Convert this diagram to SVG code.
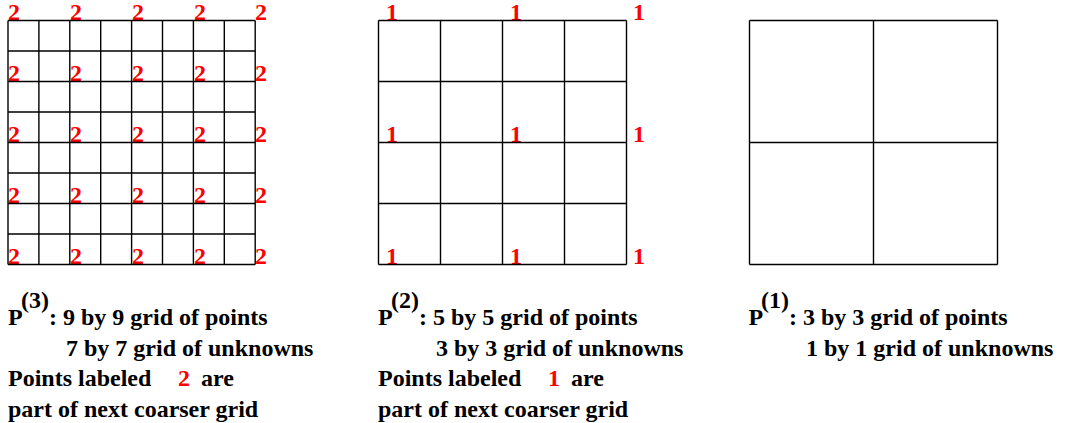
<svg xmlns="http://www.w3.org/2000/svg" width="1068" height="423" viewBox="0 0 1068 423">
<g id="grid3">
<text x="8" y="20" font-family="'Liberation Serif', serif" font-weight="700" font-size="24" fill="#ff0000">2</text>
<text x="70" y="20" font-family="'Liberation Serif', serif" font-weight="700" font-size="24" fill="#ff0000">2</text>
<text x="132" y="20" font-family="'Liberation Serif', serif" font-weight="700" font-size="24" fill="#ff0000">2</text>
<text x="194" y="20" font-family="'Liberation Serif', serif" font-weight="700" font-size="24" fill="#ff0000">2</text>
<text x="255" y="20" font-family="'Liberation Serif', serif" font-weight="700" font-size="24" fill="#ff0000">2</text>
<text x="8" y="81" font-family="'Liberation Serif', serif" font-weight="700" font-size="24" fill="#ff0000">2</text>
<text x="70" y="81" font-family="'Liberation Serif', serif" font-weight="700" font-size="24" fill="#ff0000">2</text>
<text x="132" y="81" font-family="'Liberation Serif', serif" font-weight="700" font-size="24" fill="#ff0000">2</text>
<text x="194" y="81" font-family="'Liberation Serif', serif" font-weight="700" font-size="24" fill="#ff0000">2</text>
<text x="255" y="81" font-family="'Liberation Serif', serif" font-weight="700" font-size="24" fill="#ff0000">2</text>
<text x="8" y="142" font-family="'Liberation Serif', serif" font-weight="700" font-size="24" fill="#ff0000">2</text>
<text x="70" y="142" font-family="'Liberation Serif', serif" font-weight="700" font-size="24" fill="#ff0000">2</text>
<text x="132" y="142" font-family="'Liberation Serif', serif" font-weight="700" font-size="24" fill="#ff0000">2</text>
<text x="194" y="142" font-family="'Liberation Serif', serif" font-weight="700" font-size="24" fill="#ff0000">2</text>
<text x="255" y="142" font-family="'Liberation Serif', serif" font-weight="700" font-size="24" fill="#ff0000">2</text>
<text x="8" y="203" font-family="'Liberation Serif', serif" font-weight="700" font-size="24" fill="#ff0000">2</text>
<text x="70" y="203" font-family="'Liberation Serif', serif" font-weight="700" font-size="24" fill="#ff0000">2</text>
<text x="132" y="203" font-family="'Liberation Serif', serif" font-weight="700" font-size="24" fill="#ff0000">2</text>
<text x="194" y="203" font-family="'Liberation Serif', serif" font-weight="700" font-size="24" fill="#ff0000">2</text>
<text x="255" y="203" font-family="'Liberation Serif', serif" font-weight="700" font-size="24" fill="#ff0000">2</text>
<text x="8" y="264" font-family="'Liberation Serif', serif" font-weight="700" font-size="24" fill="#ff0000">2</text>
<text x="70" y="264" font-family="'Liberation Serif', serif" font-weight="700" font-size="24" fill="#ff0000">2</text>
<text x="132" y="264" font-family="'Liberation Serif', serif" font-weight="700" font-size="24" fill="#ff0000">2</text>
<text x="194" y="264" font-family="'Liberation Serif', serif" font-weight="700" font-size="24" fill="#ff0000">2</text>
<text x="255" y="264" font-family="'Liberation Serif', serif" font-weight="700" font-size="24" fill="#ff0000">2</text>
<text x="8" y="325" font-family="'Liberation Serif', serif" font-weight="700" font-size="24">P</text>
<text x="21" y="308" font-family="'Liberation Serif', serif" font-weight="700" font-size="24">(3)</text>
<text x="49" y="325" font-family="'Liberation Serif', serif" font-weight="700" font-size="24">: 9 by 9 grid of points</text>
<text x="66" y="355.5" font-family="'Liberation Serif', serif" font-weight="700" font-size="24">7 by 7 grid of unknowns</text>
<text x="8" y="386" font-family="'Liberation Serif', serif" font-weight="700" font-size="24">Points labeled</text>
<text x="178" y="386" font-family="'Liberation Serif', serif" font-weight="700" font-size="24" fill="#ff0000">2</text>
<text x="201" y="386" font-family="'Liberation Serif', serif" font-weight="700" font-size="24">are</text>
<text x="8" y="416.5" font-family="'Liberation Serif', serif" font-weight="700" font-size="24">part of next coarser grid</text>
<path fill="none" stroke="#000" stroke-width="1.4" d="M8,20.5V264.5M38.9,20.5V264.5M69.8,20.5V264.5M100.7,20.5V264.5M131.6,20.5V264.5M162.5,20.5V264.5M193.4,20.5V264.5M224.3,20.5V264.5M255.2,20.5V264.5M8,20.5H255.2M8,51H255.2M8,81.5H255.2M8,112H255.2M8,142.5H255.2M8,173H255.2M8,203.5H255.2M8,234H255.2M8,264.5H255.2"/>
</g>
<g id="grid2">
<text x="386" y="20" font-family="'Liberation Serif', serif" font-weight="700" font-size="24" fill="#ff0000">1</text>
<text x="510" y="20" font-family="'Liberation Serif', serif" font-weight="700" font-size="24" fill="#ff0000">1</text>
<text x="633" y="20" font-family="'Liberation Serif', serif" font-weight="700" font-size="24" fill="#ff0000">1</text>
<text x="386" y="142" font-family="'Liberation Serif', serif" font-weight="700" font-size="24" fill="#ff0000">1</text>
<text x="510" y="142" font-family="'Liberation Serif', serif" font-weight="700" font-size="24" fill="#ff0000">1</text>
<text x="633" y="142" font-family="'Liberation Serif', serif" font-weight="700" font-size="24" fill="#ff0000">1</text>
<text x="386" y="264" font-family="'Liberation Serif', serif" font-weight="700" font-size="24" fill="#ff0000">1</text>
<text x="510" y="264" font-family="'Liberation Serif', serif" font-weight="700" font-size="24" fill="#ff0000">1</text>
<text x="633" y="264" font-family="'Liberation Serif', serif" font-weight="700" font-size="24" fill="#ff0000">1</text>
<text x="378" y="325" font-family="'Liberation Serif', serif" font-weight="700" font-size="24">P</text>
<text x="391" y="308" font-family="'Liberation Serif', serif" font-weight="700" font-size="24">(2)</text>
<text x="419" y="325" font-family="'Liberation Serif', serif" font-weight="700" font-size="24">: 5 by 5 grid of points</text>
<text x="436" y="355.5" font-family="'Liberation Serif', serif" font-weight="700" font-size="24">3 by 3 grid of unknowns</text>
<text x="378" y="386" font-family="'Liberation Serif', serif" font-weight="700" font-size="24">Points labeled</text>
<text x="548" y="386" font-family="'Liberation Serif', serif" font-weight="700" font-size="24" fill="#ff0000">1</text>
<text x="571" y="386" font-family="'Liberation Serif', serif" font-weight="700" font-size="24">are</text>
<text x="378" y="416.5" font-family="'Liberation Serif', serif" font-weight="700" font-size="24">part of next coarser grid</text>
<path fill="none" stroke="#000" stroke-width="1.4" d="M378.5,20.5V264.5M440.5,20.5V264.5M502.5,20.5V264.5M564.5,20.5V264.5M626.5,20.5V264.5M378.5,20.5H626.5M378.5,81.5H626.5M378.5,142.5H626.5M378.5,203.5H626.5M378.5,264.5H626.5"/>
</g>
<g id="grid1">
<text x="748.5" y="325" font-family="'Liberation Serif', serif" font-weight="700" font-size="24">P</text>
<text x="761" y="308" font-family="'Liberation Serif', serif" font-weight="700" font-size="24">(1)</text>
<text x="789" y="325" font-family="'Liberation Serif', serif" font-weight="700" font-size="24">: 3 by 3 grid of points</text>
<text x="806" y="355.5" font-family="'Liberation Serif', serif" font-weight="700" font-size="24">1 by 1 grid of unknowns</text>
<path fill="none" stroke="#000" stroke-width="1.4" d="M749.5,20.5V264.5M873.5,20.5V264.5M997.5,20.5V264.5M749.5,20.5H997.5M749.5,142.5H997.5M749.5,264.5H997.5"/>
</g>
</svg>
